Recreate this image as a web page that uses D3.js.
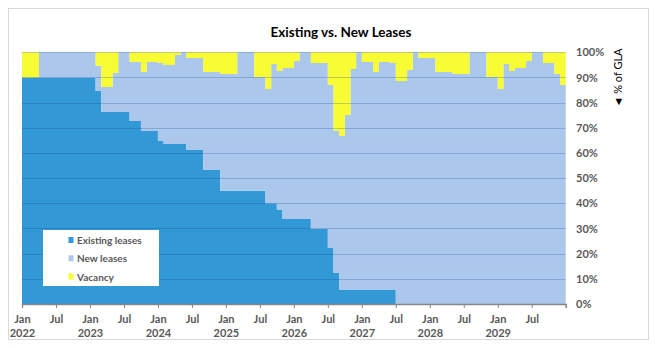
<!DOCTYPE html>
<html><head><meta charset="utf-8">
<script src="https://cdn.jsdelivr.net/npm/d3@7"></script>
<style>
html,body{margin:0;padding:0;background:#fff;}
svg{display:block;}
text{font-family:Lato,"Open Sans",sans-serif;}
</style></head>
<body>
<svg id="chart" width="658" height="348"></svg>
<script>
// ---- data (percent of GLA, monthly Jan 2022 – Dec 2029) ----
const startMonth = "2022-01";
const seriesNames = ["Existing leases", "New leases", "Vacancy"];
const existing = [
  90,90,90,90,90,90,90,90,90,90,90,90,90,
  84.6,76.3,76.3,76.3,76.3,76.3,72.7,72.7,68.7,68.7,68.7,
  64.8,63.6,63.6,63.6,63.6,61.2,61.2,61.2,53.2,53.2,53.2,
  45,45,45,45,45,45,45,45,40,40,37.5,33.8,33.8,33.8,33.8,33.8,
  29.8,29.8,29.8,22.2,12.3,5.6,5.6,5.6,5.6,5.6,5.6,5.6,5.6,5.6,5.6,
  0,0,0,0,0,0,0,0,0,0,0,0,0,0,0,0,0,0,0,0,0,0,0,0,0,0,0,0,0,0
];
const newLeases = [
  0,0,0,10,10,10,10,10,10,10,10,10,10,
  10.1,9.9,9.9,15.5,23.7,23.7,23.4,23.4,23.5,27.4,27.4,
  30.9,31.4,31.4,35.3,36.4,36.5,36.5,36.5,39,39,39,
  46.4,46.4,46.4,55,55,55,45.2,45.2,45.4,55.4,55.1,60,60,62.7,66.2,66.2,
  65.9,65.9,65.9,64.8,56.6,61.1,69.5,87.8,94.4,90.5,90.5,86.6,90.5,90.5,90.1,
  88.6,88.6,93,100,97.7,97.7,97.7,92.2,92.2,92.2,91.4,91.4,91.4,100,100,100,
  90.2,90.2,85.4,95.4,92.6,93.8,93.8,96.5,100,100,95.7,95.7,91.4,87
];
const vacancy = [
  10,10,10,0,0,0,0,0,0,0,0,0,0,
  5.3,13.8,13.8,8.2,0,0,3.9,3.9,7.8,3.9,3.9,
  4.3,5,5,1.1,0,2.3,2.3,2.3,7.8,7.8,7.8,
  8.6,8.6,8.6,0,0,0,9.8,9.8,14.6,4.6,7.4,6.2,6.2,3.5,0,0,
  4.3,4.3,4.3,13,31.1,33.3,24.9,6.6,0,3.9,3.9,7.8,3.9,3.9,4.3,
  11.4,11.4,7,0,2.3,2.3,2.3,7.8,7.8,7.8,8.6,8.6,8.6,0,0,0,
  9.8,9.8,14.6,4.6,7.4,6.2,6.2,3.5,0,0,4.3,4.3,8.6,13
];
const xTickLabels = [
  ["Jan","2022"],["Jul"],["Jan","2023"],["Jul"],["Jan","2024"],["Jul"],
  ["Jan","2025"],["Jul"],["Jan","2026"],["Jul"],["Jan","2027"],["Jul"],
  ["Jan","2028"],["Jul"],["Jan","2029"],["Jul"],[]
];
const yTicks = [0,10,20,30,40,50,60,70,80,90,100];
const title = "Existing vs. New Leases";
const yAxisTitle = "\u25C4 % of GLA";

(function() {
// ---- build table ----
const parse = d3.timeParse("%Y-%m");
const t0 = parse(startMonth);
const rows = existing.map((v, i) => ({
  idx: i, date: d3.timeMonth.offset(t0, i),
  existing: v, newLeases: newLeases[i], vacancy: vacancy[i]
}));
// extra closing row so the step area reaches the right edge
const rowsExt = rows.concat([Object.assign({}, rows[rows.length - 1], {idx: rows.length})]);

const keys = ["existing", "newLeases", "vacancy"];
const colors = {existing: "#3398d6", newLeases: "#abc7ec", vacancy: "#f8fc35"};

const svg = d3.select("#chart");
const mL = 22, mR = 565.7, mT = 52.3, mB = 304;

// frame
svg.append("rect").attr("x", 8.5).attr("y", 8.5).attr("width", 640).attr("height", 331)
  .attr("fill", "#fff").attr("stroke", "#d9d9d9").attr("stroke-width", 1);

const x = d3.scaleLinear().domain([0, rows.length]).range([mL, mR]);
const y = d3.scaleLinear().domain([0, 100]).range([mB, mT]);

const stacked = d3.stack().keys(keys)(rowsExt);
const area = d3.area()
  .x(d => x(d.data.idx))
  .y0(d => y(d[0]))
  .y1(d => y(d[1]))
  .curve(d3.curveStepAfter);

svg.append("g").selectAll("path").data(stacked).join("path")
  .attr("d", area)
  .attr("fill", d => colors[d.key])
  .attr("stroke", "none");

// gridlines (drawn over the areas, semi-transparent)
svg.append("g").selectAll("line").data(yTicks.filter(t => t > 0)).join("line")
  .attr("x1", mL).attr("x2", mR)
  .attr("y1", d => Math.round(y(d)) + 0.5).attr("y2", d => Math.round(y(d)) + 0.5)
  .attr("stroke", "rgba(20,70,140,0.26)").attr("stroke-width", 1.2);

// x axis
const xAxis = d3.axisBottom(x)
  .tickValues(d3.range(0, rows.length + 1, 6))
  .tickSize(4).tickFormat("");
const gx = svg.append("g").attr("transform", `translate(0,${mB})`).call(xAxis);
gx.select(".domain").attr("stroke", "#868686").attr("stroke-width", 1.3);
gx.selectAll(".tick line").attr("stroke", "#868686");
gx.selectAll(".tick").each(function(d, i) {
  const lab = xTickLabels[i] || [];
  const t = d3.select(this).append("text")
    .attr("fill", "#595959").attr("font-size", 11).attr("font-weight", "bold")
    .attr("text-anchor", "middle");
  lab.forEach((s, j) => {
    t.append("tspan").attr("x", 0).attr("y", 19 + j * 14).text(s);
  });
});

// y axis (right side labels)
const yAxis = d3.axisRight(y).tickValues(yTicks).tickSize(0)
  .tickFormat(d => d + "%");
const gy = svg.append("g").attr("transform", `translate(${576},0)`).call(yAxis);
gy.select(".domain").remove();
gy.selectAll(".tick text").attr("x", 0).attr("fill", "#595959")
  .attr("font-size", 11).attr("font-weight", "bold")
  .attr("font-family", "Lato, sans-serif");

// y axis title
svg.append("text")
  .attr("transform", "translate(622,78) rotate(-90)")
  .attr("text-anchor", "middle")
  .attr("fill", "#000").attr("font-size", 11)
  .text(yAxisTitle);

// title
svg.append("text").attr("x", 341).attr("y", 37)
  .attr("text-anchor", "middle").attr("font-size", 13.5).attr("font-weight", "bold")
  .attr("fill", "#000").text(title);

// legend
const lg = svg.append("g");
lg.append("rect").attr("x", 43).attr("y", 230).attr("width", 116).attr("height", 56).attr("fill", "#fff");
keys.forEach((k, i) => {
  const yy = 240.5 + i * 18.3;
  lg.append("rect").attr("x", 68.5).attr("y", yy - 3.5).attr("width", 5).attr("height", 6)
    .attr("fill", colors[k]);
  lg.append("text").attr("x", 77).attr("y", yy + 3.5)
    .attr("fill", "#595959").attr("font-size", 10).attr("font-weight", "bold")
    .text(seriesNames[i]);
});
})();
</script>
</body></html>
